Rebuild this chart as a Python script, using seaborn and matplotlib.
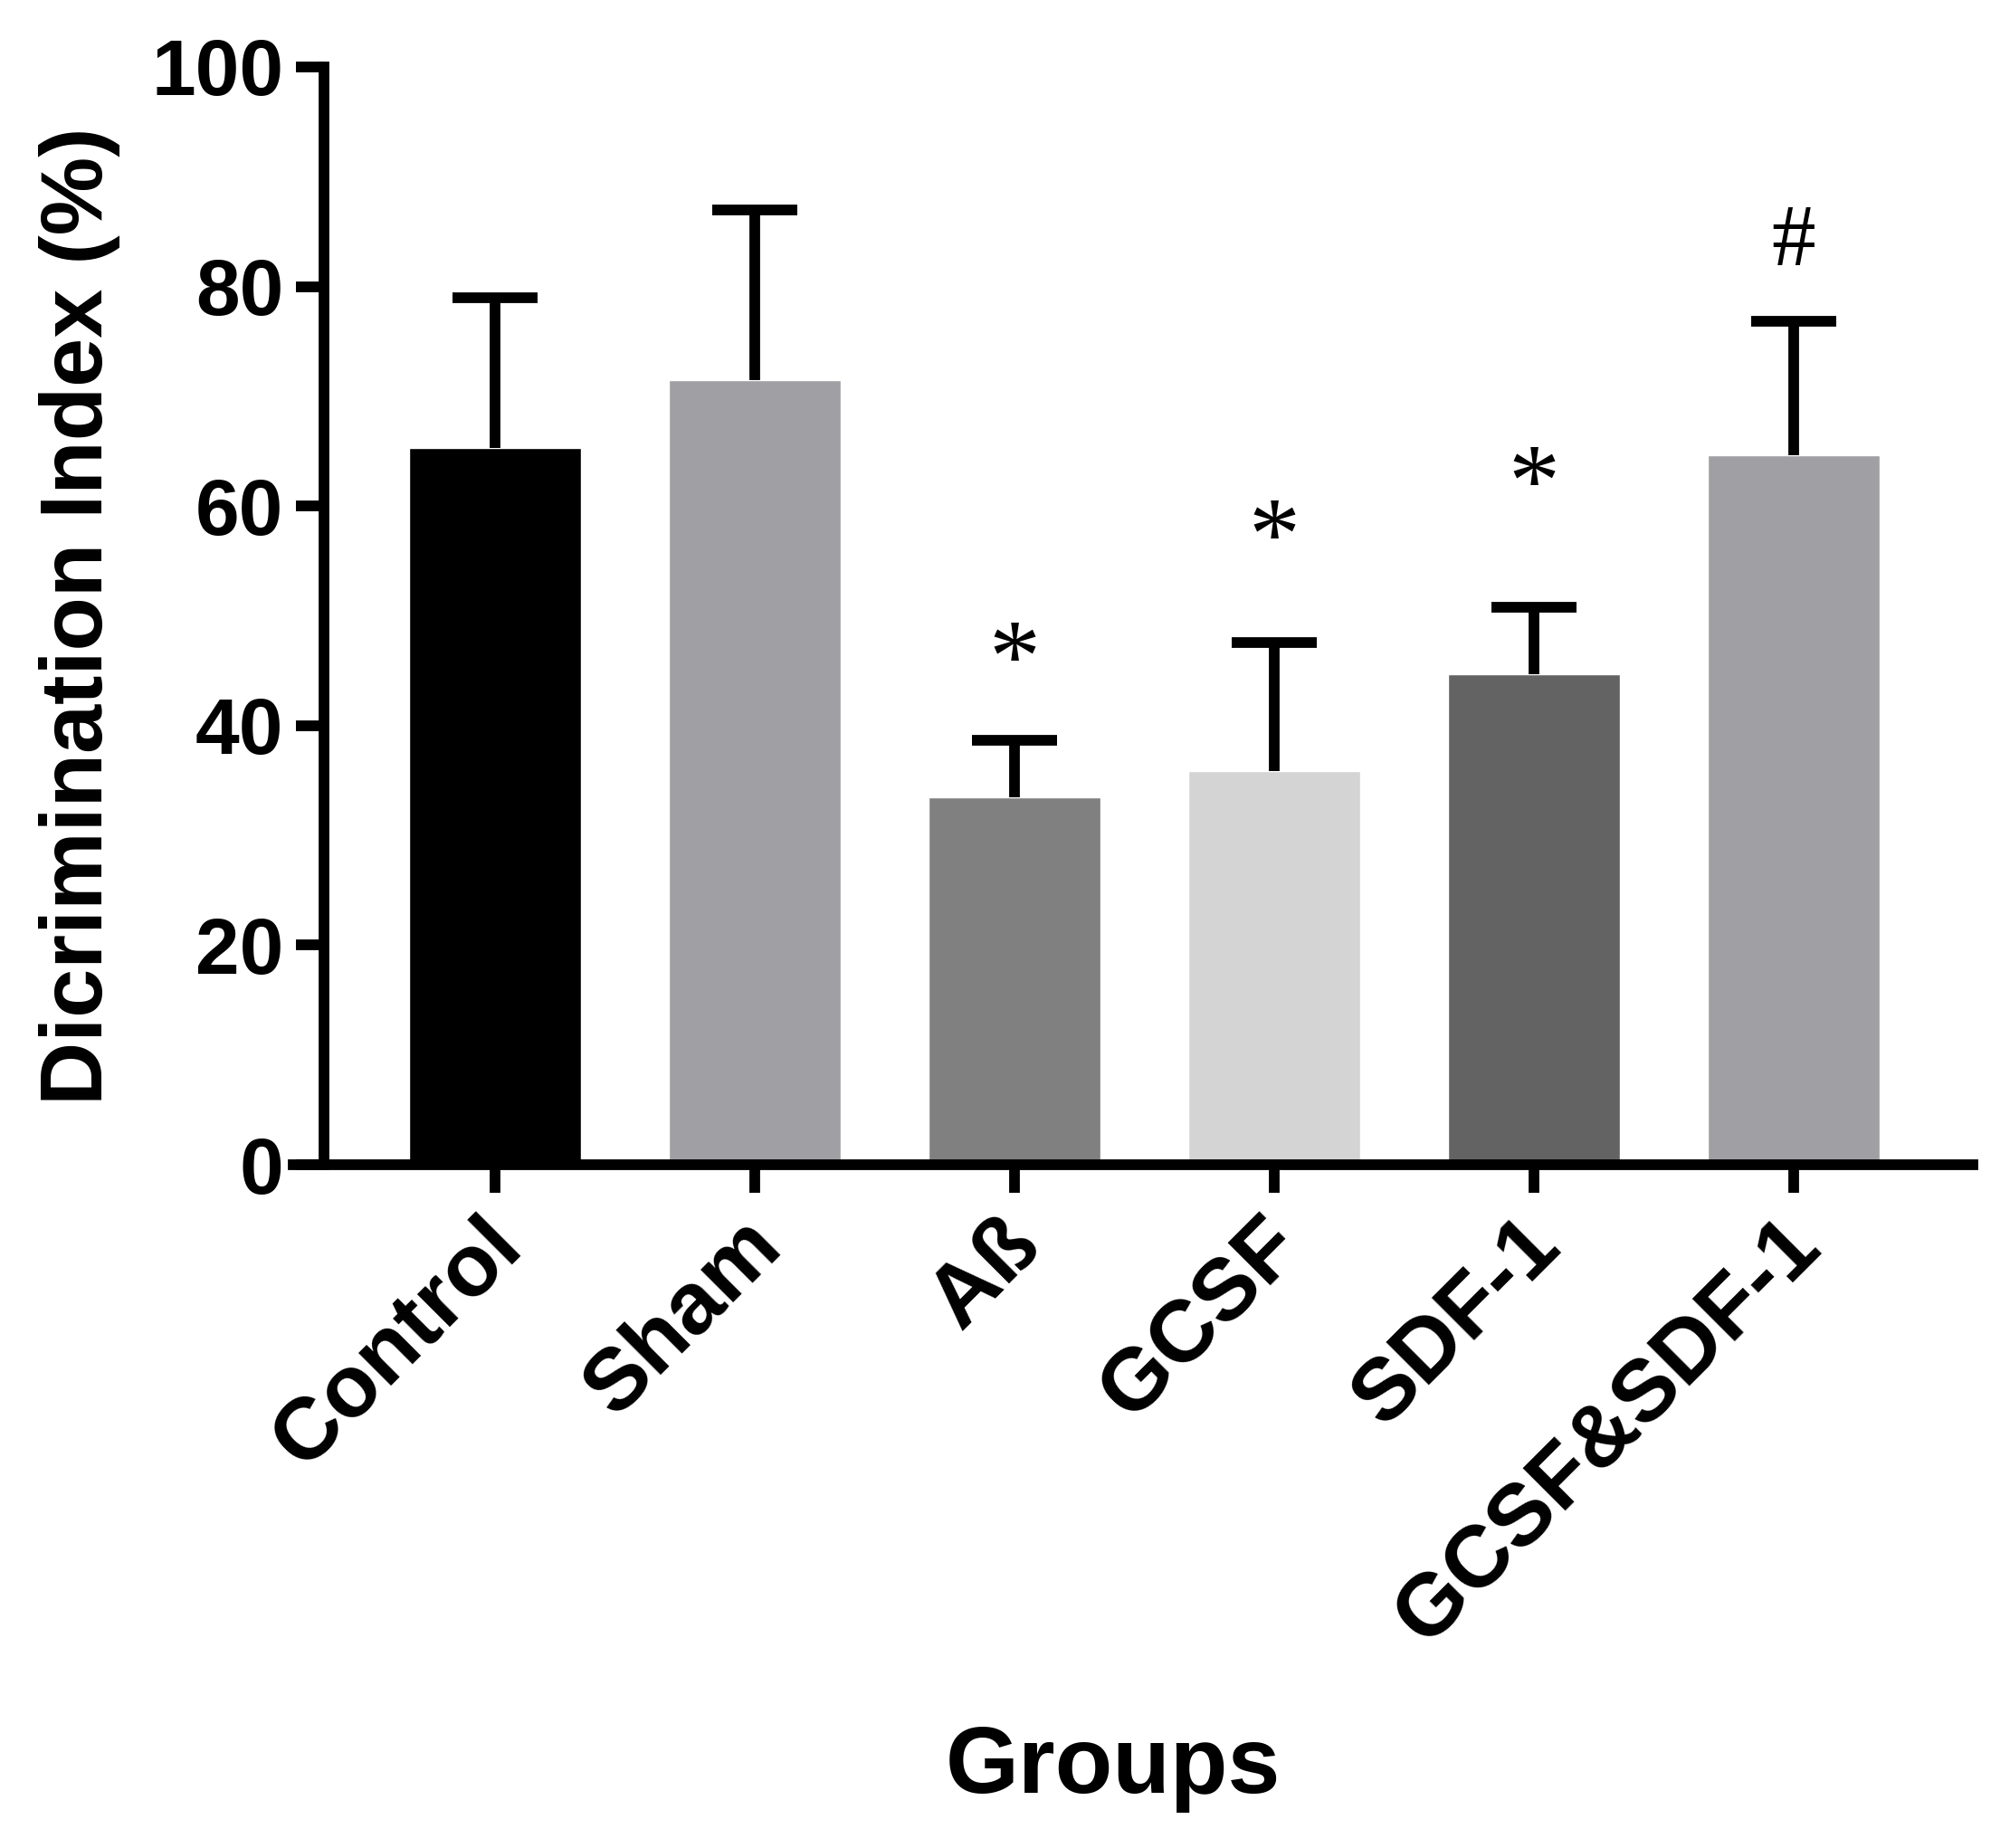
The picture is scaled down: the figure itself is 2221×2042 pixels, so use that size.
import numpy as np
import matplotlib
matplotlib.use("Agg")
import matplotlib.pyplot as plt
import matplotlib.transforms as mtransforms
import seaborn as sns

# values
groups = ["Control", "Sham", "Aß", "GCSF", "SDF-1", "GCSF&SDF-1"]
means = [65.3, 71.5, 33.5, 35.9, 44.7, 64.6]
upper = [79.0, 87.0, 38.7, 47.6, 50.8, 76.8]
colors = ["#000000", "#a0a0a4", "#808080", "#d4d4d4", "#636363", "#a0a0a4"]
marks = ["", "", "*", "*", "*", "#"]
mark_y = [0, 0, 47.1, 58.2, 63.1, 84.8]

sns.set_style("ticks")
plt.rcParams["font.family"] = ["Liberation Sans", "DejaVu Sans"]
plt.rcParams["font.weight"] = "bold"
for key in ["text.color", "axes.labelcolor", "xtick.color", "ytick.color",
            "axes.edgecolor"]:
    plt.rcParams[key] = "black"

fig = plt.figure(figsize=(22.21, 20.42), dpi=100)
ax = fig.add_axes([0.1459, 0.3697, 0.9815 - 0.1459, 0.9638 - 0.3697])

# bars
sns.barplot(x=groups, y=means, hue=groups, palette=colors, legend=False,
            saturation=1, width=0.662, ax=ax, errorbar=None)

# upper error bars only: stems, then caps
xs = np.arange(len(groups))
err = np.array(upper) - np.array(means)
ax.errorbar(xs, means, yerr=[np.zeros(len(err)), err], fmt="none",
            ecolor="black", elinewidth=8.5, capsize=0, zorder=1)
ax.errorbar(xs, upper, xerr=0.164, fmt="none", ecolor="black",
            elinewidth=8.5, capsize=0, zorder=1)

# significance marks
for i, (m, y) in enumerate(zip(marks, mark_y)):
    if m:
        ax.annotate(m, (i, y), xytext=(0, -14 if m == "*" else -8),
                    textcoords="offset points", ha="center", va="center",
                    fontsize=82 if m == "*" else 70,
                    family="Liberation Serif", fontweight="normal")

ax.set_xlim(-0.777, 5.69)
ax.set_ylim(0, 100)
ax.set_yticks([0, 20, 40, 60, 80, 100])

# axes styling
for side in ["top", "right"]:
    ax.spines[side].set_visible(False)
ax.spines["left"].set_position(("data", -0.659))
ax.spines["left"].set_linewidth(8.5)
ax.spines["bottom"].set_linewidth(8.5)
ax.tick_params(axis="both", width=8.5, length=22, color="black")
ax.tick_params(axis="y", labelsize=63, pad=10)
ax.tick_params(axis="x", labelsize=70, pad=32)

shift = mtransforms.ScaledTranslation(0.15, 0, fig.dpi_scale_trans)
for lab in ax.get_xticklabels():
    lab.set_rotation(45)
    lab.set_ha("right")
    lab.set_va("center")
    lab.set_rotation_mode("anchor")
    lab.set_fontweight("bold")
    lab.set_transform(lab.get_transform() + shift)
for lab in ax.get_yticklabels():
    lab.set_fontweight("bold")

ax.set_ylabel("Dicrimination Index (%)", fontsize=70, fontweight="bold")
ax.set_xlabel("Groups", fontsize=75, fontweight="bold")
ax.yaxis.set_label_coords(-0.103, 0.5)
ax.xaxis.set_label_coords(0.488, -0.51)

fig.savefig("out.png", dpi=100, facecolor="white")
